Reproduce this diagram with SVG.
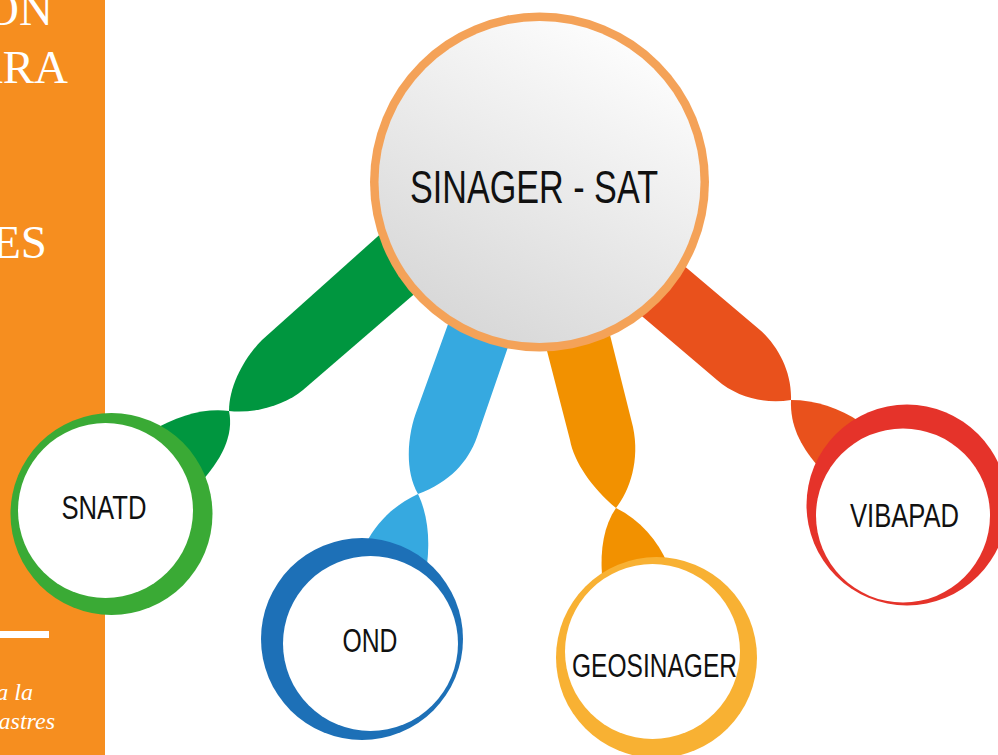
<svg xmlns="http://www.w3.org/2000/svg" width="998" height="755" viewBox="0 0 998 755">
<defs>
<linearGradient id="gray" x1="0.8" y1="0" x2="0.25" y2="1">
<stop offset="0" stop-color="#ffffff"/>
<stop offset="1" stop-color="#d6d6d6"/>
</linearGradient>
<style>
.panel-txt{font-family:"Liberation Serif","Times New Roman",serif;fill:#ffffff;font-size:47px;}
.panel-it{font-family:"Liberation Serif","Times New Roman",serif;fill:#ffffff;font-size:24px;font-style:italic;}
.lbl{font-family:"Liberation Sans",Arial,sans-serif;fill:#111111;font-size:33px;}
.lbl-big{font-family:"Liberation Sans",Arial,sans-serif;fill:#111111;font-size:46px;}
.inner{fill:#ffffff;}
</style>
</defs>
<rect x="0" y="0" width="998" height="755" fill="#ffffff"/>
<g id="panel">
<rect x="0" y="0" width="105" height="755" fill="#f68e1f"/>
<text class="panel-txt" x="53" y="25" text-anchor="end">ON</text>
<text class="panel-txt" x="68" y="83" text-anchor="end">ARA</text>
<text class="panel-txt" x="47" y="258" text-anchor="end">ES</text>
<rect x="0" y="631" width="49" height="7" fill="#ffffff"/>
<text class="panel-it" x="33" y="700" text-anchor="end">a la</text>
<text class="panel-it" x="55" y="729" text-anchor="end">astres</text>
</g>
<g id="connectors">
<path fill="#00963f" d="M443,178 L262,340 C245,357 229,385 229,411 C255,414 285,405 303,390 L477,240 Z"/>
<path fill="#00963f" d="M229,411 C205,408 178,415 150,432 L160,470 L198,485 C222,460 234,435 229,411 Z"/>
<path fill="#36a9e0" d="M470,262 L447,327 L417,410 C409,430 403,468 418,494 C450,482 468,462 477,437 L508,347 L530,282 Z"/>
<path fill="#36a9e0" d="M418,494 C395,505 378,520 365,545 L400,575 L427,565 C430,540 428,515 418,494 Z"/>
<path fill="#f29100" d="M530,285 L570,440 C574,462 592,488 616,508 C630,490 640,460 633,427 L595,275 Z"/>
<path fill="#f29100" d="M616,508 C604,525 600,550 602,575 L640,575 L668,565 C658,540 640,520 616,508 Z"/>
<path fill="#e9511c" d="M630,220 L760,330 C778,346 792,372 791,400 C765,404 738,398 717,380 L590,272 Z"/>
<path fill="#e9511c" d="M791,400 C815,400 840,408 860,422 L830,470 L817,465 C800,445 790,425 791,400 Z"/>
</g>
<g id="sinager-sat">
<circle cx="539.5" cy="182" r="169.5" fill="#f4a258"/>
<circle cx="539.5" cy="182" r="161" fill="url(#gray)"/>
<text class="lbl-big" x="534" y="203" text-anchor="middle" textLength="248" lengthAdjust="spacingAndGlyphs">SINAGER - SAT</text>
</g>
<g id="snatd">
<circle cx="111.5" cy="514" r="101" fill="#3aaa35"/>
<circle class="inner" cx="105.5" cy="510.5" r="87.5"/>
<text class="lbl" x="104" y="519" text-anchor="middle" textLength="85" lengthAdjust="spacingAndGlyphs">SNATD</text>
</g>
<g id="ond">
<circle cx="362" cy="639" r="101" fill="#1d70b7"/>
<circle class="inner" cx="370.5" cy="643.5" r="87.5"/>
<text class="lbl" x="370" y="652" text-anchor="middle" textLength="55" lengthAdjust="spacingAndGlyphs">OND</text>
</g>
<g id="geosinager">
<circle cx="656.5" cy="657.5" r="100.5" fill="#f8b133"/>
<circle class="inner" cx="652.5" cy="651.5" r="87.5"/>
<text class="lbl" x="654.5" y="677" text-anchor="middle" textLength="165" lengthAdjust="spacingAndGlyphs">GEOSINAGER</text>
</g>
<g id="vibapad">
<circle cx="907" cy="505" r="100.5" fill="#e5332a"/>
<circle class="inner" cx="903" cy="515.5" r="87"/>
<text class="lbl" x="904.5" y="527" text-anchor="middle" textLength="109" lengthAdjust="spacingAndGlyphs">VIBAPAD</text>
</g>
</svg>
